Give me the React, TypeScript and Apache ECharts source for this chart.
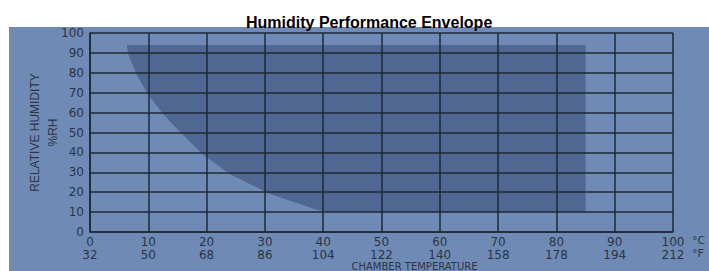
import React, { useEffect, useRef } from "react";
import * as echarts from "echarts";

const titleText = "Humidity Performance Envelope";
const celsiusTicks = [0, 10, 20, 30, 40, 50, 60, 70, 80, 90, 100];
const fahrenheitLabels = ["32", "50", "68", "86", "104", "122", "140", "158", "178", "194", "212"];
const rhTicks = [0, 10, 20, 30, 40, 50, 60, 70, 80, 90, 100];
// envelope outline (°C, %RH)
const envTemp = [6.3, 6.6, 8, 10, 12.6, 15.7, 19.4, 24, 31, 39, 41, 85, 85];
const envRH = [94, 89, 79, 69, 59, 49.5, 39, 29, 19, 11, 10, 10, 94];

const BG = "#6f8bb5";
const SHADE = "#506891";
const GRID = "#1d2839";
const LABEL = "#2a3445";

export default function App() {
  const ref = useRef<HTMLDivElement>(null);
  useEffect(() => {
    if (!ref.current) return;
    const chart = echarts.init(ref.current, null, { renderer: "svg" });
    const fIndex: Record<string, string> = {};
    celsiusTicks.forEach((c, i) => (fIndex[String(c)] = fahrenheitLabels[i]));
    chart.setOption({
      animation: false,
      backgroundColor: "#ffffff",
      title: {
        text: titleText,
        left: 241,
        top: 9,
        textStyle: { fontFamily: "Liberation Sans, Arial", fontWeight: "bold", fontSize: 16, color: "#000" },
      },
      graphic: [
        {
          type: "rect",
          z: -100,
          shape: { x: 9, y: 27, width: 700, height: 244 },
          style: { fill: BG },
        },
        {
          type: "text",
          z: 100,
          x: 692,
          y: 235,
          style: { text: "°C", fill: LABEL, font: "11px 'DejaVu Sans'" },
        },
        {
          type: "text",
          z: 100,
          x: 692,
          y: 248,
          style: { text: "°F", fill: LABEL, font: "11px 'DejaVu Sans'" },
        },
      ],
      grid: { left: 90, top: 33, right: 36, bottom: 39, outerBoundsMode: "none", containLabel: false },
      xAxis: {
        type: "value",
        min: 0,
        max: 100,
        interval: 10,
        z: 5,
        axisLine: { show: true, lineStyle: { color: GRID, width: 1.5 } },
        axisTick: { show: false },
        splitLine: { show: true, lineStyle: { color: GRID, width: 1.5 } },
        axisLabel: {
          margin: 3,
          color: LABEL,
          fontFamily: "DejaVu Sans",
          fontSize: 12,
          lineHeight: 13,
          formatter: (v: number) => `${v}\n${fIndex[String(v)] ?? ""}`,
        },
        name: "CHAMBER TEMPERATURE",
        nameLocation: "middle",
        nameMoveOverlap: false,
        nameGap: 29,
        nameTextStyle: {
          color: LABEL,
          fontFamily: "DejaVu Sans",
          fontSize: 10,
          lineHeight: 10,
          padding: [0, 0, 0, 66],
          verticalAlign: "top",
        },
      },
      yAxis: {
        type: "value",
        min: 0,
        max: 100,
        interval: 10,
        z: 5,
        axisLine: { show: true, lineStyle: { color: GRID, width: 1.5 } },
        axisTick: { show: false },
        splitLine: { show: true, lineStyle: { color: GRID, width: 1.5 } },
        axisLabel: {
          margin: 6,
          color: LABEL,
          fontFamily: "DejaVu Sans",
          fontSize: 12,
          formatter: (v: number) => (rhTicks.includes(v) ? String(v) : ""),
        },
        name: "RELATIVE HUMIDITY\n%RH",
        nameLocation: "middle",
        nameMoveOverlap: false,
        nameRotate: 90,
        nameGap: 28,
        nameTextStyle: {
          color: LABEL,
          fontFamily: "Liberation Sans Narrow, Liberation Sans, Arial",
          fontSize: 12,
          lineHeight: 18,
          align: "center",
        },
      },
      series: [
        {
          type: "custom",
          z: 1,
          data: [0],
          renderItem: (_params: any, api: any) => {
            const pts = envTemp.map((t, i) => api.coord([t, envRH[i]]));
            return {
              type: "polygon",
              shape: { points: pts },
              style: { fill: SHADE },
            };
          },
        },
      ],
    });
    return () => chart.dispose();
  }, []);
  return <div ref={ref} style={{ position: "fixed", left: 0, top: 0, width: 709, height: 271 }} />;
}
